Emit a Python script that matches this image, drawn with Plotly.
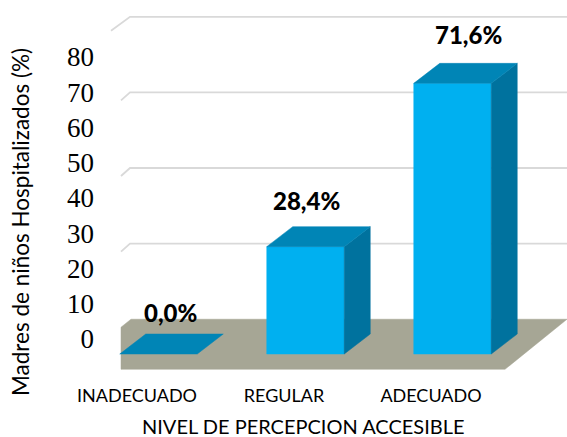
import plotly.graph_objects as go

categories = ["INADECUADO", "REGULAR", "ADECUADO"]
values = [0.0, 28.4, 71.6]
value_labels = ["0,0%", "28,4%", "71,6%"]
y_ticks = [0, 10, 20, 30, 40, 50, 60, 70, 80]
grid_values = [20, 40, 60, 80]

W, H = 567, 437
L, B = 98, 382            # plot area edges in window pixels
PX_X = 147.0              # pixels per category
X0_PX = 137.0             # pixel of category 0 label
PX_Y = 3.78               # pixels per value unit (marks)
Y0_PX = 354.0             # pixel of value 0 (front plane)
TICK_PX = 3.525           # pixels per unit for the printed axis
TICK0_PX = 339.0

x_range = [(L - X0_PX) / PX_X, (W - X0_PX) / PX_X]
y_range = [(Y0_PX - B) / PX_Y, Y0_PX / PX_Y]
y2_range = [(TICK0_PX - B) / TICK_PX, TICK0_PX / TICK_PX]

dx = 26 / PX_X            # depth of the 3D effect
dy = 20 / PX_Y
bar_w = 77.5 / PX_X
bar_off = 21.5 / PX_X
floor_back = 9.2          # floor back edge, in value units
floor_front = -15.3 / PX_Y

FRONT, TOP, SIDE = "#00B0F0", "#0085B6", "#00729E"
FLOOR, GRID = "#A6A695", "#D9D9D9"


def poly(xs, ys, color):
    return go.Scatter(x=xs + xs[:1], y=ys + ys[:1], mode="lines", fill="toself",
                      fillcolor=color, line=dict(color=color, width=0.5),
                      hoverinfo="skip", showlegend=False)


fig = go.Figure()

# back-wall gridlines with their short slanted stubs
for g in grid_values:
    yb = g + floor_back
    stub_x, stub_y = (x_range[0] + 13 / PX_X, 14 / PX_Y) if g == 80 else (x_range[0] + 23 / PX_X, 8 / PX_Y)
    fig.add_trace(go.Scatter(x=[stub_x, -7 / PX_X, 4.0], y=[yb - stub_y, yb, yb], mode="lines",
                             line=dict(color=GRID, width=1.8), hoverinfo="skip", showlegend=False))

# floor
fl = -16 / PX_X
fig.add_trace(poly([fl, 368 / PX_X, 430 / PX_X, 430 / PX_X, fl + 10 / PX_X, fl],
                   [floor_front, floor_front, floor_back, floor_back, floor_back, floor_back - 8 / PX_Y],
                   FLOOR))

# bars
for i, v in enumerate(values):
    x1 = i + bar_off - bar_w / 2
    x2 = i + bar_off + bar_w / 2
    if v > 0:
        fig.add_trace(poly([x1, x2, x2, x1], [0, 0, v, v], FRONT))
        fig.add_trace(poly([x2, x2 + dx, x2 + dx, x2], [0, dy, v + dy, v], SIDE))
    fig.add_trace(poly([x1, x2, x2 + dx, x1 + dx], [v, v, v + dy, v + dy], TOP))

# carrier for the printed value axis
fig.add_trace(go.Scatter(x=[0] * len(y_ticks), y=y_ticks, yaxis="y2", mode="markers",
                         marker=dict(opacity=0), hoverinfo="skip", showlegend=False))

# value labels
shifts = [(12, 22), (1, 26), (16, 29)]
anns = []
for i, (v, t) in enumerate(zip(values, value_labels)):
    anns.append(dict(x=i + bar_off, y=v + dy, xref="x", yref="y", text=t, showarrow=False,
                     xshift=shifts[i][0], yshift=shifts[i][1], yanchor="middle",
                     font=dict(family="Lato", size=24, color="#000000", weight=900)))

anns.append(dict(xref="paper", yref="paper", x=(303.5 - L) / (W - L), y=(B - 426) / B,
                 xanchor="center", yanchor="middle",
                 text="NIVEL DE PERCEPCION ACCESIBLE", showarrow=False,
                 font=dict(family="Lato", size=20, color="#000000")))
anns.append(dict(xref="paper", yref="paper", x=(20 - L) / (W - L), y=(B - 222) / B,
                 xanchor="center", yanchor="middle",
                 text="Madres de niños Hospitalizados (%)", showarrow=False, textangle=-90,
                 font=dict(family="Lato", size=22.5, color="#000000")))

fig.update_layout(
    width=W, height=H, margin=dict(l=L, r=0, t=0, b=H - B),
    paper_bgcolor="white", plot_bgcolor="white", showlegend=False, hovermode=False,
    annotations=anns,
    xaxis=dict(range=x_range, tickvals=[0, 1, 2], ticktext=categories, showgrid=False,
               zeroline=False, showline=False, ticks="", ticklabelstandoff=1,
               tickfont=dict(family="Lato", size=18, color="#000000"), fixedrange=True),
    yaxis=dict(range=y_range, visible=False, showgrid=False, zeroline=False, fixedrange=True),
    yaxis2=dict(range=y2_range, overlaying="y", side="left", tickvals=y_ticks, showgrid=False,
                zeroline=False, showline=False, ticks="", ticklabelstandoff=3,
                tickfont=dict(family="Liberation Serif", size=27, color="#000000"), fixedrange=True),
)

fig.write_html("out.html", config=dict(displayModeBar=False),
               post_script="document.body.style.margin='0';document.documentElement.style.overflow='hidden';")
